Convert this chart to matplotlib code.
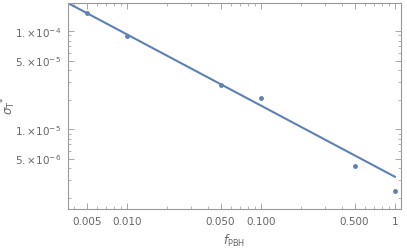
import numpy as np
import matplotlib
matplotlib.use("Agg")
import matplotlib.pyplot as plt
from matplotlib.ticker import FixedLocator, FixedFormatter, NullFormatter

# datos
f_pbh = [0.005, 0.010, 0.050, 0.100, 0.500, 1.0]
sigma = [1.52e-4, 8.9e-5, 2.8e-5, 2.07e-5, 4.19e-6, 2.33e-6]

# ajuste en ley de potencias: sigma = A * f^p
fit_A = 3.26e-6
fit_p = -0.726

xticks = [0.005, 0.010, 0.050, 0.100, 0.500, 1.0]
xtick_labels = ["0.005", "0.010", "0.050", "0.100", "0.500", "1"]
yticks = [1e-4, 5e-5, 1e-5, 5e-6]
ytick_labels = [r"$1.{\times}10^{-4}$", r"$5.{\times}10^{-5}$",
                r"$1.{\times}10^{-5}$", r"$5.{\times}10^{-6}$"]

azul = "#5E81B5"
gris = "#999999"
texto = "#666666"

fig = plt.figure(figsize=(4.07, 2.51), dpi=100)
ax = fig.add_axes([68 / 407, 41 / 251, 333 / 407, 206 / 251])

xx = np.logspace(np.log10(0.003), 0, 200)
ax.plot(xx, fit_A * xx ** fit_p, color=azul, lw=1.5)
ax.plot(f_pbh, sigma, "o", color=azul, ms=3.5, mec="none")

ax.set_xscale("log")
ax.set_yscale("log")
ax.set_xlim(0.00363, 1.11)
ax.set_ylim(1.53e-6, 1.93e-4)

ax.xaxis.set_major_locator(FixedLocator(xticks))
ax.xaxis.set_major_formatter(FixedFormatter(xtick_labels))
ax.xaxis.set_minor_formatter(NullFormatter())
ax.yaxis.set_major_locator(FixedLocator(yticks))
ax.yaxis.set_major_formatter(FixedFormatter(ytick_labels))
ax.yaxis.set_minor_formatter(NullFormatter())

for s in ax.spines.values():
    s.set_color(gris)
    s.set_linewidth(0.8)

ax.tick_params(which="both", direction="in", top=True, right=True,
               color=gris, labelcolor=texto, labelsize=7.5)
ax.tick_params(which="major", length=4, width=0.6, pad=5)
ax.tick_params(which="minor", length=2, width=0.5)

ax.set_xlabel(r"$f_{\mathrm{PBH}}$", color=texto, fontsize=8.5, labelpad=4)
fig.text(9 / 407, 1 - 106 / 251, r"$\sigma_{\mathrm{T}}{}^{*}$", color=texto,
         fontsize=8.5, rotation=90, ha="center", va="center")

plt.savefig("out.png", dpi=100)
plt.close()
